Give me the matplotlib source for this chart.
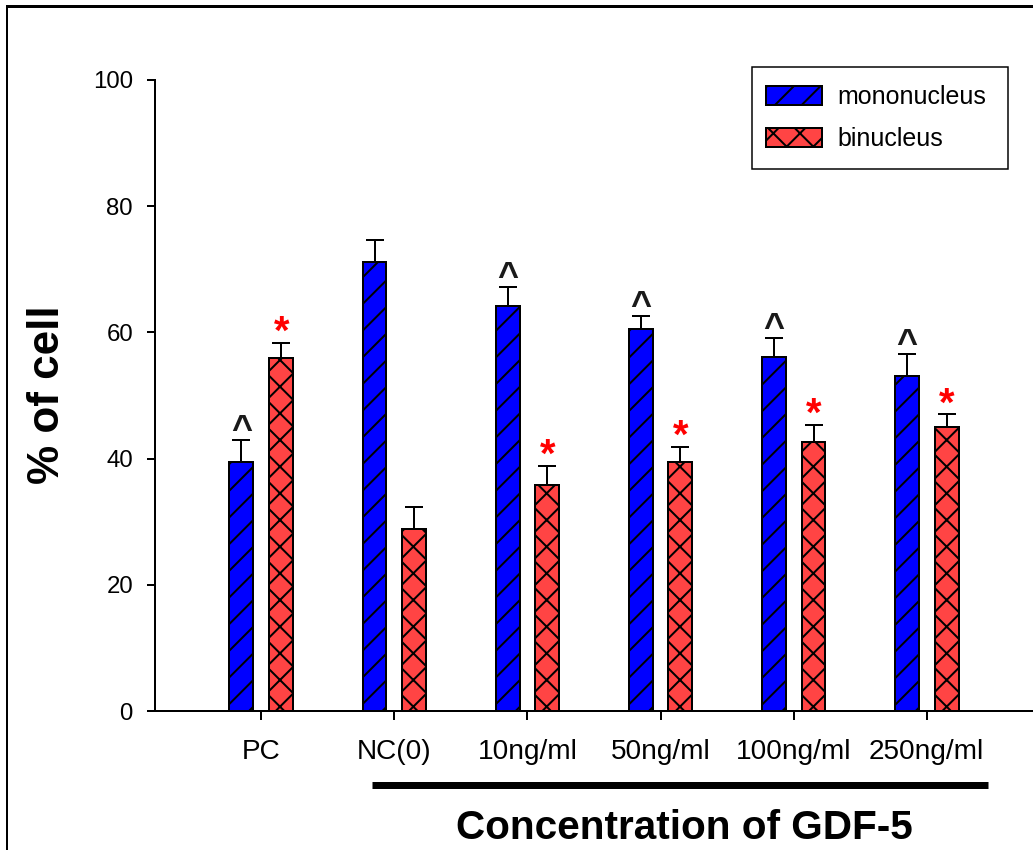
import matplotlib
matplotlib.use("Agg")
import matplotlib.pyplot as plt
from matplotlib.lines import Line2D
from matplotlib.patches import Rectangle
import numpy as np

# ---- data ----
categories = ["PC", "NC(0)", "10ng/ml", "50ng/ml", "100ng/ml", "250ng/ml"]
mono = [39.4, 71.2, 64.2, 60.5, 56.1, 53.1]
mono_err = [3.5, 3.5, 3.0, 2.1, 3.0, 3.4]
bi = [56.0, 28.9, 35.8, 39.4, 42.6, 45.0]
bi_err = [2.3, 3.4, 3.0, 2.4, 2.7, 2.0]
mono_sig = ["^", "", "^", "^", "^", "^"]
bi_sig = ["*", "", "*", "*", "*", "*"]
y_ticks = [0, 20, 40, 60, 80, 100]

DPI = 160
W, H = 1033, 850
PX = 72.0 / DPI  # points per pixel

plt.rcParams["font.family"] = ["Liberation Sans", "DejaVu Sans"]
plt.rcParams["hatch.linewidth"] = 2.0 * PX
plt.rcParams["hatch.color"] = "black"

fig = plt.figure(figsize=(W / DPI, H / DPI), dpi=DPI)
ax = fig.add_axes([155 / W, (H - 711) / H, (W - 155) / W, (711 - 80) / H])

x = np.arange(len(categories))
bw = 0.18
off = 0.15
blue = "#0000FF"
red = "#FF4444"
lw = 2.0 * PX

b1 = ax.bar(x - off, mono, bw, color=blue, edgecolor="black", linewidth=lw,
            hatch="//", label="mononucleus", zorder=2)
b2 = ax.bar(x + off, bi, bw, color=red, edgecolor="black", linewidth=lw,
            hatch="xx", label="binucleus", zorder=2)

errkw = dict(fmt="none", ecolor="black", elinewidth=lw, capsize=9 * PX,
             capthick=lw, zorder=1)
ax.errorbar(x - off, mono, yerr=[np.zeros(len(mono)), mono_err], **errkw)
ax.errorbar(x + off, bi, yerr=[np.zeros(len(bi)), bi_err], **errkw)

# significance marks above the error caps
for xi, v, e, s in zip(x - off, mono, mono_err, mono_sig):
    if s:
        ax.annotate(s, xy=(xi, v + e), xytext=(0, 0), textcoords="offset points",
                    ha="center", va="baseline", fontsize=36 * PX,
                    fontweight="bold", color="#1a1a1a")
for xi, v, e, s in zip(x + off, bi, bi_err, bi_sig):
    if s:
        ax.annotate(s, xy=(xi, v + e), xytext=(0, -1 * PX), textcoords="offset points",
                    ha="center", va="baseline", fontsize=40 * PX,
                    fontweight="bold", color="red")

ax.set_xlim(-0.8, 5.8)
ax.set_ylim(0, 100)
ax.set_yticks(y_ticks)
ax.set_xticks(x)
ax.set_xticklabels(categories)
for s in ["top", "right"]:
    ax.spines[s].set_visible(False)
for s in ["left", "bottom"]:
    ax.spines[s].set_linewidth(lw)
ax.tick_params(axis="y", direction="out", length=8 * PX, width=lw,
               labelsize=24 * PX, pad=14 * PX)
ax.tick_params(axis="x", direction="out", length=9 * PX, width=lw,
               labelsize=28 * PX, pad=19 * PX)

# legend entries, with a separately drawn frame
leg = ax.legend(loc="upper left", bbox_to_anchor=(766 / W, 1 - 85 / H),
                bbox_transform=fig.transFigure, fontsize=25 * PX,
                frameon=False, handlelength=2.25, handleheight=0.8,
                handletextpad=0.6, borderpad=0, labelspacing=0.72,
                borderaxespad=0)
fig.add_artist(Rectangle((752 / W, 1 - 169 / H), (1008 - 752) / W, (169 - 67) / H,
                         transform=fig.transFigure, fill=False,
                         edgecolor="black", linewidth=1.5 * PX))

# bracket bar under the GDF-5 treatment groups
fig.add_artist(Line2D([372 / W, 988 / W], [1 - 785 / H, 1 - 785 / H],
                      color="black", linewidth=7 * PX, solid_capstyle="butt"))

fig.text(48 / W, 1 - 395 / H, "% of cell", rotation=90, ha="center",
         va="center", fontsize=44 * PX, fontweight="bold")
fig.text(684 / W, 1 - 828 / H, "Concentration of GDF-5", ha="center",
         va="center", fontsize=40.5 * PX, fontweight="bold")

# outer frame lines (left and top)
fig.add_artist(Line2D([7 / W, 7 / W], [0, 1 - 6 / H], color="black", linewidth=2 * PX))
fig.add_artist(Line2D([7 / W, 1], [1 - 6 / H, 1 - 6 / H], color="black", linewidth=3 * PX))

fig.savefig("out.png", dpi=DPI)
